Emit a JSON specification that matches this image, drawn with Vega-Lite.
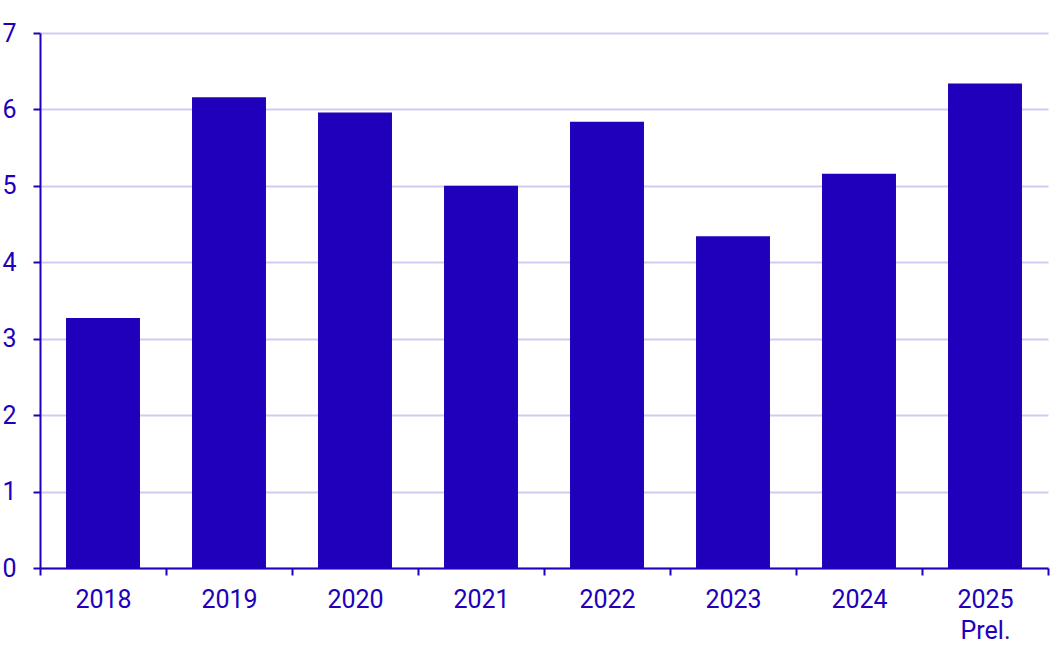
{
  "$schema": "https://vega.github.io/schema/vega-lite/v6.json",
  "width": 1008,
  "height": 535,
  "autosize": {"type": "none"},
  "padding": {"left": 40, "top": 33, "right": 15, "bottom": 82},
  "background": "white",
  "data": {
    "values": [
      {"year": "2018", "value": 3.27},
      {"year": "2019", "value": 6.16},
      {"year": "2020", "value": 5.96},
      {"year": "2021", "value": 5.0},
      {"year": "2022", "value": 5.84},
      {"year": "2023", "value": 4.34},
      {"year": "2024", "value": 5.16},
      {"year": "2025", "value": 6.34}
    ]
  },
  "mark": {"type": "bar", "color": "#2000BB", "width": {"band": 0.587}},
  "encoding": {
    "x": {
      "field": "year",
      "type": "nominal",
      "title": null,
      "scale": {"paddingInner": 0, "paddingOuter": 0},
      "axis": {
        "zindex": 1,
        "labelAngle": 0,
        "tickBand": "extent",
        "labelExpr": "datum.value == '2025' ? ['2025', 'Prel.'] : datum.label",
        "labelLineHeight": 31,
        "labelPadding": 12,
        "tickSize": 7
      }
    },
    "y": {
      "field": "value",
      "type": "quantitative",
      "title": null,
      "scale": {"domain": [0, 7], "nice": false},
      "axis": {
        "values": [0, 1, 2, 3, 4, 5, 6, 7],
        "grid": true,
        "gridColor": "#D0CBF0",
        "gridWidth": 2,
        "tickSize": 7,
        "labelPadding": 17
      }
    }
  },
  "config": {
    "view": {"stroke": null},
    "font": "Roboto",
    "axis": {
      "domainColor": "#2000BB",
      "domainWidth": 2,
      "tickColor": "#2000BB",
      "tickWidth": 2,
      "labelColor": "#2000BB",
      "labelFont": "Roboto",
      "labelFontSize": 25,
      "labelFontWeight": "normal"
    }
  }
}
